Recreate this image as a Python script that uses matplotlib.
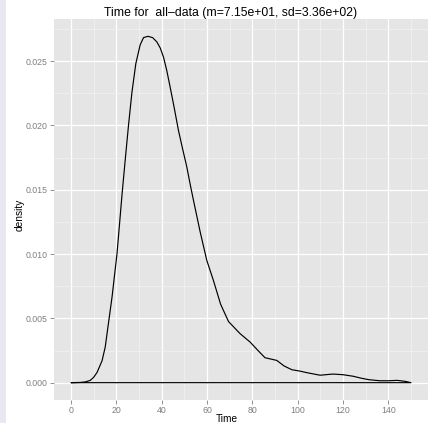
import numpy as np
import matplotlib
matplotlib.use('Agg')
from matplotlib import pyplot as plt
from matplotlib.patches import Rectangle
from matplotlib.ticker import MultipleLocator

# density curve (Time, density)
time = [0, 4.1, 6.3, 8.5, 10, 11.5, 13.7, 15.1, 16.1, 18.1, 20.3, 22.5, 23.9,
        25.4, 26.9, 28.6, 30.5, 32.0, 33.9, 36.0, 37.9, 39.4, 40.8, 42.2,
        43.6, 45.5, 47.4, 49.2, 51.1, 52.6, 54.0, 55.5, 57.0, 59.9, 62.8,
        66.0, 69.5, 74.6, 79.0, 82.5, 85.6, 90.8, 94.0, 97.4, 101.0, 104.0,
        109.9, 115.5, 120.0, 124.5, 128.0, 131.5, 136.3, 140.0, 144.0, 147.5,
        150.0]
density = [0, 0.00002, 0.00006, 0.00018, 0.00042, 0.0008, 0.0017, 0.00277,
           0.00407, 0.00665, 0.01003, 0.0146, 0.01728, 0.02006, 0.02259,
           0.0248, 0.02625, 0.02682, 0.02692, 0.02682, 0.02648, 0.02600,
           0.02531, 0.0243, 0.0231, 0.0214, 0.01961, 0.0182, 0.01676, 0.0154,
           0.0142, 0.01295, 0.01171, 0.00951, 0.00796, 0.0061, 0.00475,
           0.00381, 0.00316, 0.0025, 0.00194, 0.00173, 0.0013, 0.00101,
           0.0009, 0.00078, 0.00058, 0.00067, 0.00062, 0.0005, 0.00035,
           0.00023, 0.00015, 0.00015, 0.00018, 0.0001, 0.0]
x_ticks = [0, 20, 40, 60, 80, 100, 120, 140]
y_ticks = [0.000, 0.005, 0.010, 0.015, 0.020, 0.025]

plt.rcParams['font.family'] = ['Liberation Sans', 'DejaVu Sans']

fig = plt.figure(figsize=(4.42, 4.23), dpi=100)
fig.patches.append(Rectangle((0, 0), 6 / 442, 1, transform=fig.transFigure,
                             facecolor='#e8e8f2', edgecolor='none'))

ax = fig.add_axes([54 / 442, 1 - 400 / 423, 374 / 442, 381 / 423])
ax.set_facecolor('#e5e5e5')
ax.fill(time, density, facecolor='none', edgecolor='black', linewidth=0.85,
        joinstyle='round')

xr = max(time) - min(time)
yr = max(density) - min(density)
ax.set_xlim(min(time) - 0.05 * xr, max(time) + 0.05 * xr)
ax.set_ylim(min(density) - 0.05 * yr, max(density) + 0.05 * yr)

ax.set_xticks(x_ticks)
ax.set_xticklabels([str(t) for t in x_ticks])
ax.set_yticks(y_ticks)
ax.set_yticklabels(['%.3f' % t for t in y_ticks])
ax.xaxis.set_minor_locator(MultipleLocator(10))
ax.yaxis.set_minor_locator(MultipleLocator(0.0025))

ax.grid(which='major', color='white', linewidth=0.9)
ax.grid(which='minor', color='#f2f2f2', linewidth=0.5)
ax.set_axisbelow(True)
for s in ax.spines.values():
    s.set_visible(False)
ax.tick_params(which='major', length=3, width=0.6, color='#7f7f7f',
               labelcolor='#7f7f7f', labelsize=6.3, pad=1.5)
ax.tick_params(which='minor', length=0)

fig.text(231 / 442, 1 - 15.7 / 423,
         'Time for  all\u2013data (m=7.15e+01, sd=3.36e+02)',
         ha='center', va='baseline', fontsize=8.8)
fig.text(227 / 442, 1 - 421.5 / 423, 'Time', ha='center', va='baseline',
         fontsize=7.3)
fig.text(20 / 442, 1 - 215 / 423, 'density', ha='center', va='center',
         rotation=90, fontsize=7.3)

fig.savefig('out.png', dpi=100)
